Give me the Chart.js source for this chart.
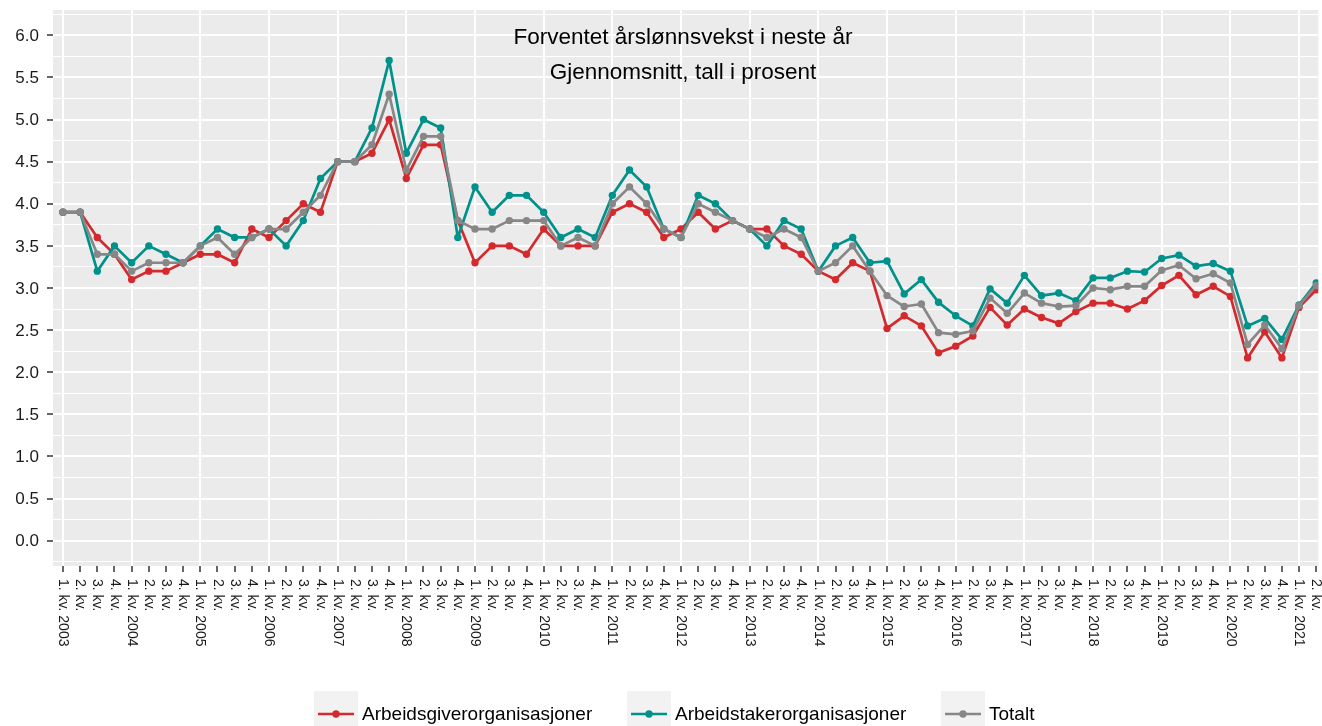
<!DOCTYPE html>
<html>
<head>
<meta charset="utf-8">
<script src="https://cdn.jsdelivr.net/npm/chart.js@4.4.1/dist/chart.umd.min.js"></script>
<style>
  html, body { margin: 0; padding: 0; background: #ffffff; }
  #wrap { width: 1322px; height: 726px; position: relative; }
</style>
</head>
<body>
<div id="wrap"><canvas id="c" width="1322" height="726"></canvas></div>
<script>
// ---- Data ----
const categories = [
  "1. kv. 2003","2. kv.","3. kv.","4. kv.",
  "1. kv. 2004","2. kv.","3. kv.","4. kv.",
  "1. kv. 2005","2. kv.","3. kv.","4. kv.",
  "1. kv. 2006","2. kv.","3. kv.","4. kv.",
  "1. kv. 2007","2. kv.","3. kv.","4. kv.",
  "1. kv. 2008","2. kv.","3. kv.","4. kv.",
  "1. kv. 2009","2. kv.","3. kv.","4. kv.",
  "1. kv. 2010","2. kv.","3. kv.","4. kv.",
  "1. kv. 2011","2. kv.","3. kv.","4. kv.",
  "1. kv. 2012","2. kv.","3. kv.","4. kv.",
  "1. kv. 2013","2. kv.","3. kv.","4. kv.",
  "1. kv. 2014","2. kv.","3. kv.","4. kv.",
  "1. kv. 2015","2. kv.","3. kv.","4. kv.",
  "1. kv. 2016","2. kv.","3. kv.","4. kv.",
  "1. kv. 2017","2. kv.","3. kv.","4. kv.",
  "1. kv. 2018","2. kv.","3. kv.","4. kv.",
  "1. kv. 2019","2. kv.","3. kv.","4. kv.",
  "1. kv. 2020","2. kv.","3. kv.","4. kv.",
  "1. kv. 2021","2. kv."
];

const arbeidsgiver = [
  3.9, 3.9, 3.6, 3.4,   3.1, 3.2, 3.2, 3.3,   3.4, 3.4, 3.3, 3.7,
  3.6, 3.8, 4.0, 3.9,   4.5, 4.5, 4.6, 5.0,   4.3, 4.7, 4.7, 3.8,
  3.3, 3.5, 3.5, 3.4,   3.7, 3.5, 3.5, 3.5,   3.9, 4.0, 3.9, 3.6,
  3.7, 3.9, 3.7, 3.8,   3.7, 3.7, 3.5, 3.4,   3.2, 3.1, 3.3, 3.2,
  2.52, 2.67, 2.55, 2.23,   2.31, 2.43, 2.77, 2.56,
  2.75, 2.65, 2.58, 2.72,   2.82, 2.82, 2.75, 2.85,
  3.03, 3.15, 2.92, 3.02,   2.90, 2.17, 2.48, 2.17,
  2.77, 2.98
];

const arbeidstaker = [
  3.9, 3.9, 3.2, 3.5,   3.3, 3.5, 3.4, 3.3,   3.5, 3.7, 3.6, 3.6,
  3.7, 3.5, 3.8, 4.3,   4.5, 4.5, 4.9, 5.7,   4.6, 5.0, 4.9, 3.6,
  4.2, 3.9, 4.1, 4.1,   3.9, 3.6, 3.7, 3.6,   4.1, 4.4, 4.2, 3.7,
  3.6, 4.1, 4.0, 3.8,   3.7, 3.5, 3.8, 3.7,   3.2, 3.5, 3.6, 3.3,
  3.32, 2.93, 3.10, 2.83,   2.67, 2.55, 2.99, 2.82,
  3.15, 2.91, 2.94, 2.85,   3.12, 3.12, 3.20, 3.19,
  3.35, 3.39, 3.26, 3.29,   3.20, 2.55, 2.64, 2.39,
  2.80, 3.06
];

const totalt = [
  3.9, 3.9, 3.4, 3.4,   3.2, 3.3, 3.3, 3.3,   3.5, 3.6, 3.4, 3.6,
  3.7, 3.7, 3.9, 4.1,   4.5, 4.5, 4.7, 5.3,   4.4, 4.8, 4.8, 3.8,
  3.7, 3.7, 3.8, 3.8,   3.8, 3.5, 3.6, 3.5,   4.0, 4.2, 4.0, 3.7,
  3.6, 4.0, 3.9, 3.8,   3.7, 3.6, 3.7, 3.6,   3.2, 3.3, 3.5, 3.2,
  2.91, 2.78, 2.81, 2.47,   2.45, 2.49, 2.88, 2.70,
  2.94, 2.82, 2.78, 2.79,   3.00, 2.98, 3.02, 3.02,
  3.21, 3.27, 3.11, 3.17,   3.06, 2.33, 2.56, 2.28,
  2.79, 3.03
];

const yTickLabels = ["0.0","0.5","1.0","1.5","2.0","2.5","3.0","3.5","4.0","4.5","5.0","5.5","6.0"];

const seriesNames = ["Arbeidsgiverorganisasjoner", "Arbeidstakerorganisasjoner", "Totalt"];
const seriesColors = ["#D42A2E", "#00918B", "#878787"];
const titleLines = ["Forventet årslønnsvekst i neste år", "Gjennomsnitt, tall i prosent"];

// ---- Helpers ----
const FONT = "'Liberation Sans', Arial, Helvetica, sans-serif";
const toXY = arr => arr.map((v, i) => ({ x: i, y: v }));
const yMajorValues = yTickLabels.map(s => parseFloat(s));
const isMajorY = v => yMajorValues.some(m => Math.abs(m - v) < 1e-6);

const titlePlugin = {
  id: 'titlePlugin',
  afterDraw(chart) {
    const ctx = chart.ctx;
    ctx.save();
    ctx.fillStyle = '#000';
    ctx.font = '22.5px ' + FONT;
    ctx.textAlign = 'center';
    ctx.textBaseline = 'middle';
    ctx.fillText(titleLines[0], 683, 38);
    ctx.fillText(titleLines[1], 683, 73);
    ctx.restore();
  }
};

const axisLabelPlugin = {
  id: 'axisLabelPlugin',
  afterDraw(chart) {
    const ctx = chart.ctx;
    const xs = chart.scales.x;
    const ys = chart.scales.y;
    ctx.save();
    ctx.fillStyle = '#1a1a1a';
    ctx.font = '14px ' + FONT;
    ctx.textAlign = 'left';
    ctx.textBaseline = 'middle';
    categories.forEach((lab, i) => {
      const px = xs.getPixelForValue(i);
      ctx.save();
      ctx.translate(px, 579);
      ctx.rotate(Math.PI / 2);
      ctx.fillText(lab, 0, 0);
      ctx.restore();
    });
    ctx.font = '17px ' + FONT;
    ctx.textAlign = 'right';
    yTickLabels.forEach((lab, i) => {
      const py = ys.getPixelForValue(yMajorValues[i]);
      ctx.fillText(lab, 39, py + 1);
    });
    ctx.restore();
  }
};

const legendPlugin = {
  id: 'legendPlugin',
  afterDraw(chart) {
    const ctx = chart.ctx;
    const boxX = [314, 627, 941];
    const boxW = 44, boxTop = 691, boxH = 44;
    const cy = 714;
    ctx.save();
    ctx.font = '19px ' + FONT;
    ctx.textBaseline = 'middle';
    ctx.textAlign = 'left';
    seriesNames.forEach((name, i) => {
      const bx = boxX[i];
      ctx.fillStyle = '#F2F2F2';
      ctx.fillRect(bx, boxTop, boxW, boxH);
      ctx.strokeStyle = seriesColors[i];
      ctx.lineWidth = 2.7;
      ctx.beginPath();
      ctx.moveTo(bx + 4, cy);
      ctx.lineTo(bx + boxW - 4, cy);
      ctx.stroke();
      ctx.fillStyle = seriesColors[i];
      ctx.beginPath();
      ctx.arc(bx + boxW / 2, cy, 3.7, 0, Math.PI * 2);
      ctx.fill();
      ctx.fillStyle = '#000';
      ctx.fillText(name, bx + boxW + 4, cy + 1);
    });
    ctx.restore();
  }
};

const panelBg = {
  id: 'panelBg',
  beforeDraw(chart) {
    const { ctx, chartArea } = chart;
    ctx.save();
    ctx.fillStyle = '#EBEBEB';
    ctx.fillRect(chartArea.left, chartArea.top, chartArea.right - chartArea.left, chartArea.bottom - chartArea.top);
    ctx.restore();
  }
};

const mkDataset = (label, arr, color, order) => ({
  label,
  data: toXY(arr),
  borderColor: color,
  backgroundColor: color,
  borderWidth: 2.7,
  borderJoinStyle: 'round',
  borderCapStyle: 'round',
  pointRadius: 3.7,
  pointBorderWidth: 0,
  pointBackgroundColor: color,
  pointHoverRadius: 3.7,
  tension: 0,
  order
});

new Chart(document.getElementById('c'), {
  type: 'line',
  data: {
    datasets: [
      mkDataset(seriesNames[0], arbeidsgiver, seriesColors[0], 2),
      mkDataset(seriesNames[1], arbeidstaker, seriesColors[1], 1),
      mkDataset(seriesNames[2], totalt, seriesColors[2], 0)
    ]
  },
  options: {
    responsive: false,
    animation: false,
    devicePixelRatio: 1,
    layout: { padding: { top: 10, right: 0, bottom: 0, left: 0 } },
    plugins: {
      legend: { display: false },
      tooltip: { enabled: false },
      title: { display: false }
    },
    scales: {
      x: {
        type: 'linear',
        min: -0.58,
        max: 73.12,
        afterBuildTicks: scale => { scale.ticks = categories.map((_, i) => ({ value: i })); },
        afterFit: scale => { scale.height = 160; },
        ticks: { display: false },
        border: { display: false },
        grid: {
          drawTicks: true,
          tickLength: 6,
          tickWidth: 1.5,
          tickColor: '#333333',
          color: ctx => (ctx.tick && ctx.tick.value % 4 === 0) ? '#FFFFFF' : 'rgba(0,0,0,0)',
          lineWidth: 2
        }
      },
      y: {
        type: 'linear',
        min: -0.3,
        max: 6.3,
        afterBuildTicks: scale => {
          const t = [];
          for (let k = -1; k <= 25; k++) t.push({ value: k * 0.25 });
          scale.ticks = t;
        },
        afterFit: scale => { scale.width = 53; },
        border: { display: false },
        ticks: { display: false },
        grid: {
          drawTicks: true,
          tickLength: 6,
          tickWidth: 1.5,
          tickColor: ctx => (ctx.tick && isMajorY(ctx.tick.value)) ? '#333333' : 'rgba(0,0,0,0)',
          color: '#FFFFFF',
          lineWidth: ctx => (ctx.tick && isMajorY(ctx.tick.value)) ? 2 : 1
        }
      }
    }
  },
  plugins: [panelBg, titlePlugin, axisLabelPlugin, legendPlugin]
});
</script>
</body>
</html>
